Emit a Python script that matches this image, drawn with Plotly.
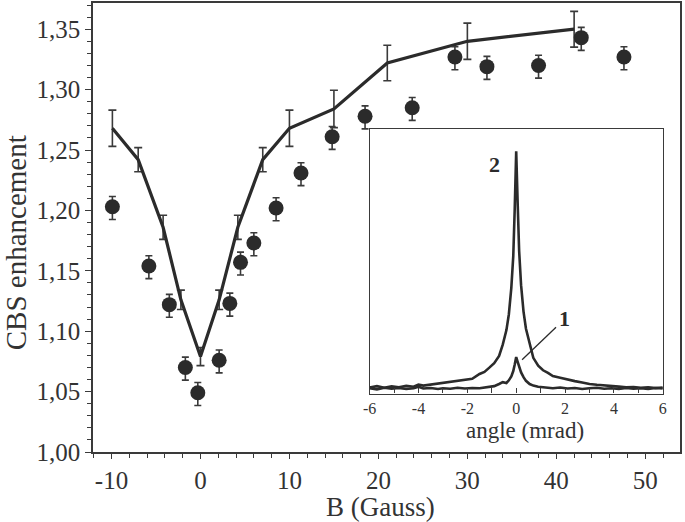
import plotly.graph_objects as go

# ---- main panel: measured CBS enhancement (dots) ----
dot_B = [-9.9, -5.8, -3.5, -1.7, -0.3, 2.1, 3.3, 4.5, 6.0, 8.5, 11.3, 14.8, 18.5, 23.8, 28.6, 32.2, 38.0, 42.8, 47.6]
dot_enh = [1.203, 1.154, 1.122, 1.070, 1.049, 1.076, 1.123, 1.157, 1.173, 1.202, 1.231, 1.261, 1.278, 1.285, 1.327, 1.319, 1.320, 1.343, 1.327]
dot_err_up = [0.0085] * 19
dot_err_down = [0.0105] * 19

# ---- main panel: computed curve (line with error bars) ----
line_B = [-9.9, -7.0, -4.2, -2.2, 0.0, 2.1, 4.2, 7.0, 10.0, 15.0, 21.0, 30.0, 42.0]
line_enh = [1.268, 1.242, 1.186, 1.126, 1.079, 1.126, 1.186, 1.242, 1.268, 1.284, 1.322, 1.340, 1.350]
line_err = [0.015, 0.010, 0.010, 0.008, 0.0075, 0.008, 0.010, 0.010, 0.015, 0.0155, 0.0147, 0.015, 0.0148]

# ---- inset: CBS cones vs angle ----
angle = [-6.0, -5.7, -5.4, -5.1, -4.8, -4.5, -4.2, -4.0, -3.8, -3.5, -3.2, -3.0, -2.7, -2.4, -2.1,
         -1.8, -1.5, -1.3, -1.1, -0.9, -0.7, -0.55, -0.4, -0.3, -0.2, -0.12, -0.06, 0.0, 0.06, 0.12,
         0.2, 0.3, 0.4, 0.55, 0.7, 0.9, 1.1, 1.3, 1.5, 1.8, 2.1, 2.4, 2.7, 3.0, 3.3, 3.6, 3.9, 4.2,
         4.5, 4.8, 5.1, 5.4, 5.7, 6.0]
cone2 = [2.3, 2.8, 2.2, 2.7, 2.4, 2.9, 2.6, 3.4, 3.0, 3.4, 3.6, 3.9, 4.2, 4.6, 5.0,
         5.6, 7.4, 8.2, 9.8, 11.5, 14.2, 18.5, 24.0, 30.0, 40.0, 52.0, 70.0, 91.6, 72.0, 54.0,
         41.0, 31.0, 24.5, 18.5, 13.5, 10.5, 8.8, 7.8, 6.6, 6.0, 5.2, 4.7, 4.2, 3.6, 3.3, 3.0, 2.7, 2.6,
         2.4, 2.5, 2.2, 2.4, 2.1, 2.3]
cone1 = [2.0, 1.6, 2.2, 1.8, 2.1, 1.7, 2.0, 2.6, 1.9, 2.1, 1.7, 2.0, 1.8, 2.2, 1.9,
         2.1, 2.0, 2.2, 2.4, 2.8, 3.6, 4.3, 4.0, 5.0, 6.5, 8.5, 11.0, 13.8, 12.0, 10.0,
         8.0, 6.2, 4.8, 3.6, 3.0, 2.6, 2.4, 2.2, 2.0, 2.3, 1.9, 2.1, 1.7, 2.0, 2.2, 1.8, 2.0, 1.7,
         2.1, 1.8, 2.0, 1.7, 2.1, 1.9]

x_ticks_main = [-10, 0, 10, 20, 30, 40, 50]
x_labels_main = ["-10", "0", "10", "20", "30", "40", "50"]
x_ticks_inset = [-6, -4, -2, 0, 2, 4, 6]
x_labels_inset = ["-6", "-4", "-2", "0", "2", "4", "6"]

INK = "#2b2b2b"
AX = "#3a3a3a"
TXT = "#333333"
FONT = "Liberation Serif"

fig = go.Figure()

fig.add_trace(go.Scatter(
    x=line_B, y=line_enh, mode="lines",
    line=dict(color=INK, width=3.2),
    error_y=dict(type="data", array=line_err, color=AX, thickness=1.6, width=4),
    showlegend=False, hoverinfo="skip"))

fig.add_trace(go.Scatter(
    x=dot_B, y=dot_enh, mode="markers",
    marker=dict(size=15, color=INK, line=dict(width=0)),
    error_y=dict(type="data", symmetric=False, array=dot_err_up, arrayminus=dot_err_down,
                 color=AX, thickness=1.6, width=3.5),
    showlegend=False, hoverinfo="skip"))

fig.add_trace(go.Scatter(
    x=angle, y=cone2, mode="lines", xaxis="x2", yaxis="y2",
    line=dict(color=INK, width=2.6), showlegend=False, hoverinfo="skip"))
fig.add_trace(go.Scatter(
    x=angle, y=cone1, mode="lines", xaxis="x2", yaxis="y2",
    line=dict(color=INK, width=2.6), showlegend=False, hoverinfo="skip"))

fig.update_layout(
    width=685, height=522,
    margin=dict(l=93, r=2, t=1, b=70),
    paper_bgcolor="white", plot_bgcolor="white",
    separators=", ",
    font=dict(family=FONT, color=TXT),
    xaxis=dict(
        range=[-12.08, 53.9], tickvals=x_ticks_main, ticktext=x_labels_main,
        ticks="outside", ticklen=5,
        tickwidth=1.4, tickcolor=AX, showline=True, linecolor=AX, linewidth=1.6,
        mirror=True, showgrid=False, zeroline=False,
        tickfont=dict(size=25, family=FONT, color=TXT),
        minor=dict(dtick=2, tick0=0, ticks="outside", ticklen=4, tickcolor=AX, tickwidth=1.2),
    ),
    yaxis=dict(
        range=[1.0, 1.3717], tick0=1.0, dtick=0.05, tickformat=".2f", ticks="outside",
        ticklen=6, tickwidth=1.4, tickcolor=AX, showline=True, linecolor=AX, linewidth=1.6,
        mirror=True, showgrid=False, zeroline=False,
        tickfont=dict(size=25, family=FONT, color=TXT),
        minor=dict(dtick=0.01, tick0=1.0, ticks="outside", ticklen=4, tickcolor=AX, tickwidth=1.2),
    ),
    xaxis2=dict(
        domain=[0.4712, 0.9707], anchor="y2", range=[-6, 6],
        tickvals=x_ticks_inset, ticktext=x_labels_inset,
        ticks="inside", ticklen=5, tickcolor=AX, tickwidth=1.2,
        showline=True, linecolor=AX, linewidth=1.4, mirror=True,
        showgrid=False, zeroline=False,
        tickfont=dict(size=16, family=FONT, color=TXT),
        minor=dict(dtick=1, tick0=0, ticks="inside", ticklen=5, tickcolor=AX, tickwidth=1.2),
    ),
    yaxis2=dict(
        domain=[0.1302, 0.719], anchor="x2", range=[0, 100], showticklabels=False,
        ticks="", showline=True, linecolor=AX, linewidth=1.4, mirror=True,
        showgrid=False, zeroline=False,
    ),
    shapes=[
        dict(type="line", xref="x2", yref="y2", x0=1.63, y0=25.1, x1=0.24, y1=12.8,
             line=dict(color=INK, width=1.3)),
    ],
    annotations=[
        dict(text="B (Gauss)", xref="x", yref="paper", x=20.27, y=-0.123,
             showarrow=False, font=dict(size=27, family=FONT, color=TXT), borderpad=0,
             xanchor="center", yanchor="middle"),
        dict(text="CBS enhancement", xref="paper", yref="paper", x=-0.132, y=0.466,
             textangle=-90, showarrow=False, font=dict(size=29, family=FONT, color=TXT),
             borderpad=0, xanchor="center", yanchor="middle"),
        dict(text="angle (mrad)", xref="x2", yref="paper", x=0.34, y=0.047,
             showarrow=False, font=dict(size=23, family=FONT, color=TXT), borderpad=0,
             xanchor="center", yanchor="middle"),
        dict(text="<b>2</b>", xref="x2", yref="y2", x=-0.88, y=86.6, showarrow=False,
             font=dict(size=22, family=FONT, color=INK), xanchor="center", yanchor="middle"),
        dict(text="<b>1</b>", xref="x2", yref="y2", x=1.97, y=28.2, showarrow=False,
             font=dict(size=22, family=FONT, color=INK), xanchor="center", yanchor="middle"),
    ],
)

fig.write_html(
    "out.html",
    config={"displayModeBar": False},
    post_script="document.body.style.margin='0';document.body.style.padding='0';",
)
